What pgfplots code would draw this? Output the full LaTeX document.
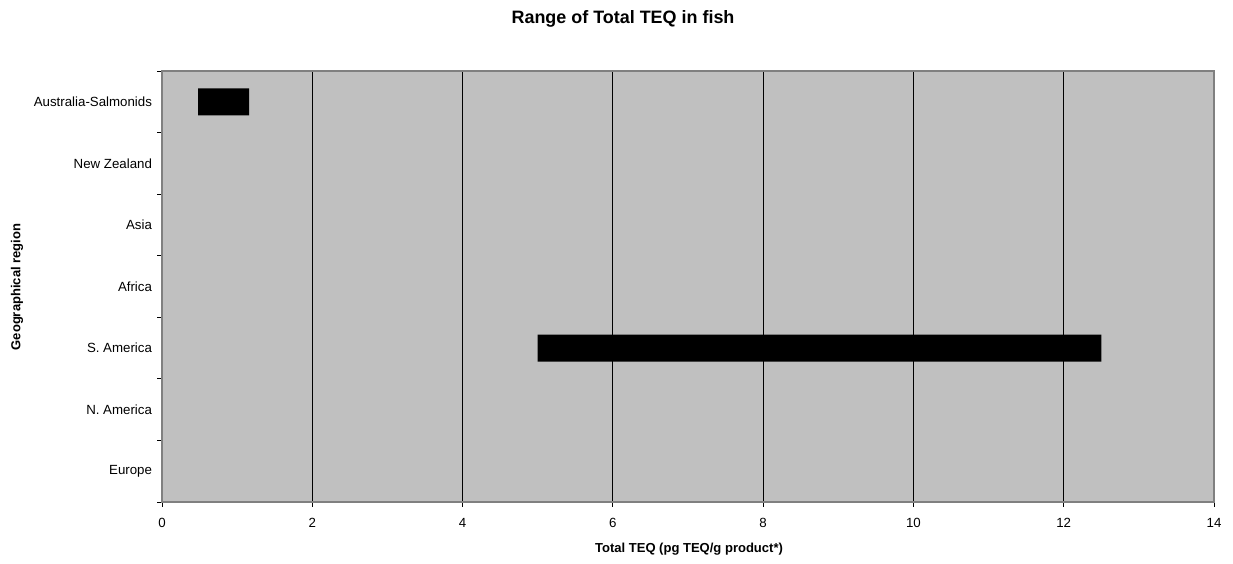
\documentclass[border=0pt]{standalone}
\usepackage{pgfplots}
\pgfplotsset{compat=1.18}
\usepackage{fontspec}
\setmainfont{Liberation Sans}
\definecolor{plotbg}{HTML}{C0C0C0}
\definecolor{axgray}{HTML}{808080}
\begin{document}
\begin{tikzpicture}[x=0.75bp,y=0.75bp]
\path[use as bounding box] (0,0) rectangle (1233,563);
\node[font=\bfseries\fontsize{13.5}{16}\selectfont] at (623,544) {Range of Total TEQ in fish};
\node[font=\bfseries\fontsize{9.8}{12}\selectfont] at (689,14) {Total TEQ (pg TEQ/g product*)};
\node[font=\bfseries\fontsize{9.8}{12}\selectfont, rotate=90] at (17,276) {Geographical region};
\begin{axis}[
  at={(162bp*0.75,61bp*0.75)}, anchor=south west,
  scale only axis, width=789bp, height=323.25bp,
  xmin=0, xmax=14, ymin=-0.5, ymax=6.5,
  xtick={0,2,...,14},
  ytick={-0.5,0.5,...,6.5},
  yticklabels={},
  extra y ticks={0,...,6},
  extra y tick labels={Europe,N. America,S. America,Africa,Asia,New Zealand,Australia-Salmonids},
  extra y tick style={major tick length=0pt, yticklabel style={xshift=-4bp}},
  tick align=outside,
  xtick pos=bottom, ytick pos=left,
  major tick length=3.5bp,
  tick style={black, line width=0.6bp},
  xmajorgrids, major x grid style={black, line width=0.6bp},
  axis background/.style={fill=plotbg},
  axis line style={axgray, line width=1.5bp},
  tick label style={font=\fontsize{10}{12}\selectfont},
  /pgf/number format/assume math mode=true,
  xticklabel style={yshift=-5bp},
  xbar stacked, bar width=20.25bp,
]
\addplot[draw=none, fill=none] coordinates {(0.48,6) (5,2)};
\addplot[draw=none, fill=black] coordinates {(0.68,6) (7.5,2)};
\end{axis}
\end{tikzpicture}
\end{document}
